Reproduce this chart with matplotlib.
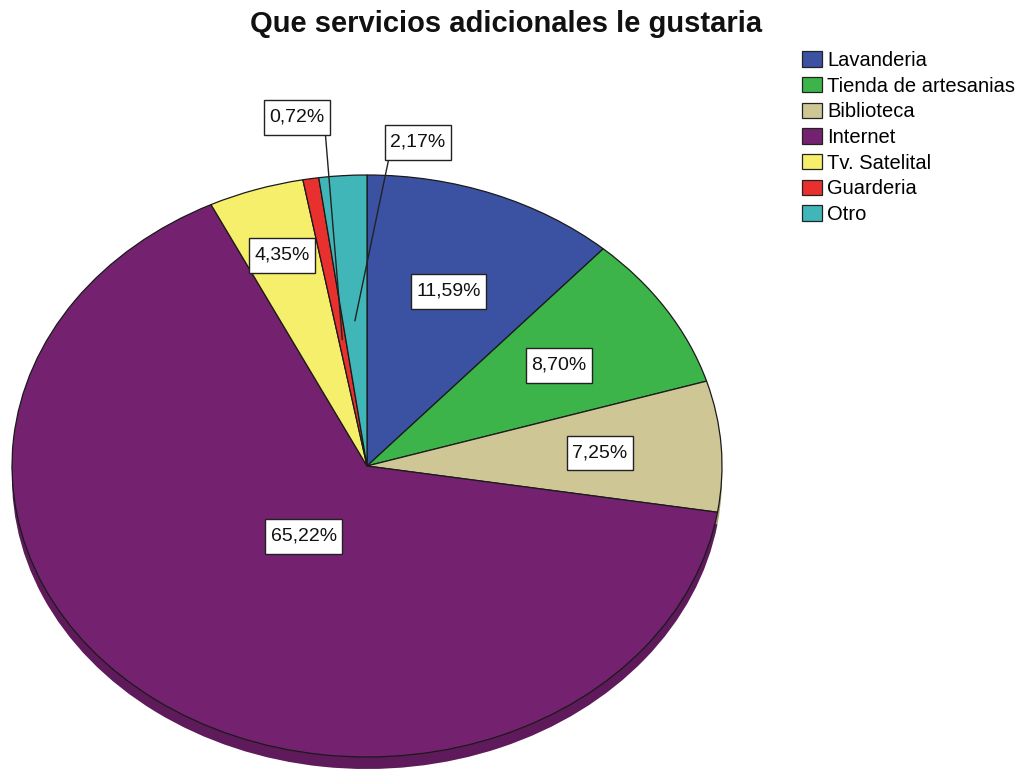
import numpy as np
import matplotlib
matplotlib.use("Agg")
import matplotlib.pyplot as plt
from matplotlib.patches import Patch
from matplotlib.path import Path

title = "Que servicios adicionales le gustaria"
categories = ["Lavanderia", "Tienda de artesanias", "Biblioteca", "Internet",
              "Tv. Satelital", "Guarderia", "Otro"]
percentages = [11.59, 8.70, 7.25, 65.22, 4.35, 0.72, 2.17]
colors = ["#3b52a3", "#3cb44a", "#cfc696", "#74216f", "#f6ef6c", "#e8302f", "#41b6b9"]
side_colors = ["#2c3e7c", "#2d8838", "#a39b70", "#5e1a5a", "#c2bc52", "#b02422", "#318a8c"]

plt.rcParams["font.family"] = ["Liberation Sans", "DejaVu Sans"]

W, H, DPI = 1019, 776, 100
fig = plt.figure(figsize=(W / DPI, H / DPI), dpi=DPI)
ax = fig.add_axes([0, 0, 1, 1])

# pixel geometry of the elliptical pie
cx_px, cy_px, rx_px, ry_px, depth_px = 367, 466, 355, 291, 12
depth = depth_px / ry_px

# side wall (drawn first, shifted down)
ax.pie(percentages, colors=side_colors, startangle=90, counterclock=False,
       center=(0, -depth), radius=1.0,
       wedgeprops=dict(linewidth=0, edgecolor="none"))
# top face
wedges, _ = ax.pie(percentages, colors=colors, startangle=90, counterclock=False,
                   center=(0, 0), radius=1.0,
                   wedgeprops=dict(linewidth=0.9, edgecolor="#1a1a1a"))

ax.set_aspect("auto")
ax.set_xlim(-cx_px / rx_px, (W - cx_px) / rx_px)
ax.set_ylim((cy_px - H) / ry_px, cy_px / ry_px)
ax.axis("off")


def label_box(x0, y0, width, height, mutation_size):
    """Rectangular box with more vertical than horizontal padding."""
    px, py = 0.28 * mutation_size, 0.46 * mutation_size
    x0, y0 = x0 - px, y0 - py
    x1, y1 = x0 + width + 2 * px, y0 + height + 2 * py
    return Path([(x0, y0), (x1, y0), (x1, y1), (x0, y1), (x0, y0)],
                closed=True)


# label placement: fraction of the radius along each slice's mid-angle
label_radius = [0.643, 0.641, 0.657, 0.30, 0.762, None, None]
# callout positions for the two thinnest slices (x, y, relpos, leader radius)
callouts = {5: (-0.197, 1.199, (1, 0), 0.44), 6: (0.144, 1.113, (0, 0), 0.50)}

box = dict(boxstyle=label_box, fc="white", ec="#222222", lw=1.0)
cum = np.cumsum([0] + percentages)
for i, p in enumerate(percentages):
    mid = np.deg2rad(90 - 3.6 * (cum[i] + p / 2))
    txt = f"{p:.2f}%".replace(".", ",")
    if label_radius[i] is not None:
        r = label_radius[i]
        ax.text(r * np.cos(mid), r * np.sin(mid), txt, ha="center", va="center",
                fontsize=14, color="#111111", bbox=box, zorder=5)
    else:
        tx, ty, rel, lr = callouts[i]
        ax.annotate(txt, xy=(lr * np.cos(mid), lr * np.sin(mid)), xytext=(tx, ty),
                    ha="center", va="center", fontsize=14, color="#111111",
                    bbox=box, zorder=5,
                    arrowprops=dict(arrowstyle="-", color="#222222", lw=1.0,
                                    relpos=rel, shrinkA=0, shrinkB=0))

fig.text(506 / W, 1 - 32 / H, title, ha="center", va="baseline",
         fontsize=21, fontweight="bold", color="#111111")

handles = [Patch(facecolor=c, edgecolor="#222222", linewidth=0.9) for c in colors]
fig.legend(handles, categories, loc="upper left",
           bbox_to_anchor=(802 / W, 1 - 51 / H), frameon=False,
           fontsize=14.5, handlelength=1.0, handleheight=0.8,
           handletextpad=0.25, labelspacing=0.33, borderpad=0, borderaxespad=0)

fig.savefig("out.png", dpi=DPI, facecolor="white")
